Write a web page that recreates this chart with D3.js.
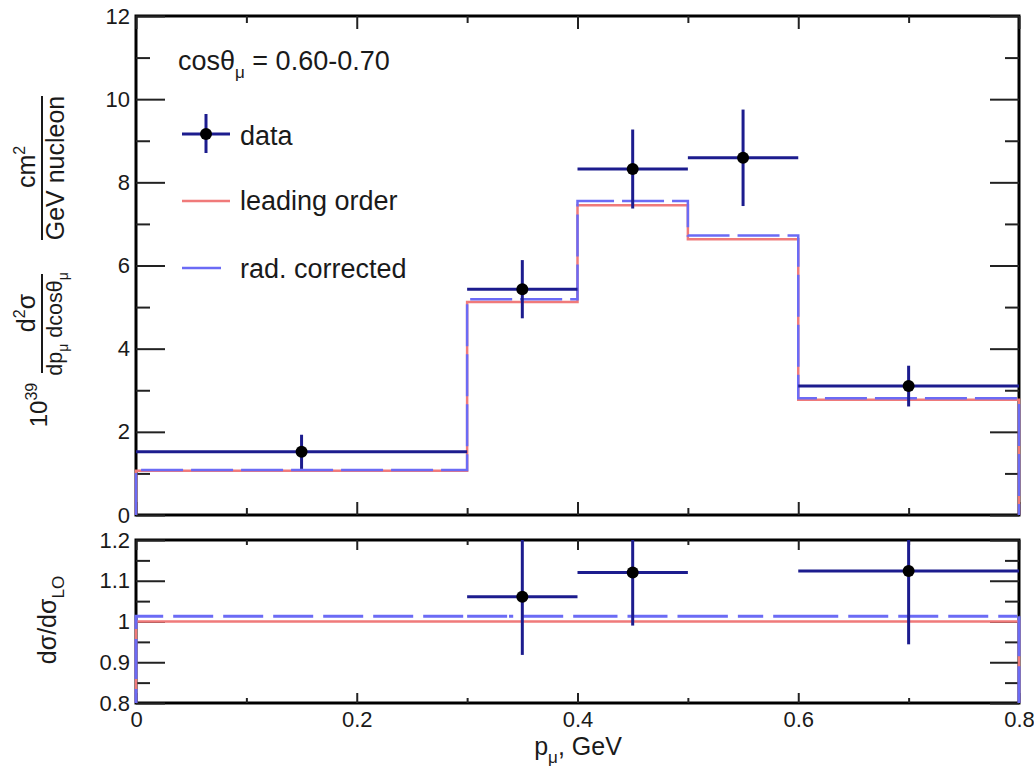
<!DOCTYPE html>
<html><head><meta charset="utf-8">
<script src="https://cdn.jsdelivr.net/npm/d3@7"></script>
<style>
body{margin:0;background:#fff}
text{font-family:"Liberation Sans",Arial,sans-serif;fill:#1a1a1a}
</style>
</head><body><svg id="c" width="1034" height="769"></svg>
<script>
// ---- data ----
const binEdges = [0, 0.3, 0.4, 0.5, 0.6, 0.8];
const dataValues = [1.52, 5.43, 8.32, 8.59, 3.10];
const dataErrors = [0.41, 0.70, 0.95, 1.16, 0.49];
const leadingOrder = [1.065, 5.12, 7.45, 6.63, 2.77];
const radCorrected = [1.08, 5.19, 7.55, 6.72, 2.81];
const ratioLO = [1.0, 1.0, 1.0, 1.0, 1.0];
const ratioRad = [1.013, 1.013, 1.013, 1.013, 1.013];
const ratioData = [null, 1.061, 1.12, null, 1.124];
const ratioErrors = [null, 0.143, 0.13, null, 0.18];
const xTicks = [0, 0.2, 0.4, 0.6, 0.8];
const xTickLabels = ["0", "0.2", "0.4", "0.6", "0.8"];
const xMinorTicks = [0.1, 0.3, 0.5, 0.7];
const yTopTicks = [0, 2, 4, 6, 8, 10, 12];
const yTopMinor = [1, 3, 5, 7, 9, 11];
const yBotTicks = [0.8, 0.9, 1.0, 1.1, 1.2];
const yBotTickLabels = ["0.8", "0.9", "1", "1.1", "1.2"];
const yBotMinor = [0.85, 0.95, 1.05, 1.15];
const legendLabels = ["data", "leading order", "rad. corrected"];

const colData = "#1c1c8e", colLO = "#f07a7a", colRad = "#6b6bf5";

const svg = d3.select("#c");
const L = 136, R = 1019;
const x = d3.scaleLinear([0, 0.8], [L, R]);
const yTop = d3.scaleLinear([0, 12], [515, 16]);
const yBot = d3.scaleLinear([0.8, 1.2], [703, 540]);

function frame(y0, y1) {
  svg.append("rect").attr("x", L).attr("y", y0).attr("width", R - L).attr("height", y1 - y0)
    .attr("fill", "none").attr("stroke", "#000").attr("stroke-width", 3);
}
function axisG(gen, tx, ty) {
  const g = svg.append("g").attr("transform", `translate(${tx},${ty})`).call(gen);
  g.select(".domain").remove();
  g.selectAll(".tick line").attr("stroke", "#222").attr("stroke-width", 2);
  g.selectAll("text").style("font-size", "22px").attr("fill", "#1a1a1a");
  return g;
}

// ---- top panel axes ----
frame(16, 515);
axisG(d3.axisLeft(yTop).tickValues(yTopTicks).tickSize(-29).tickPadding(6), L, 0);
axisG(d3.axisLeft(yTop).tickValues(yTopMinor).tickSize(-14).tickFormat(""), L, 0);
axisG(d3.axisRight(yTop).tickValues(yTopTicks).tickSize(-29).tickFormat(""), R, 0);
axisG(d3.axisRight(yTop).tickValues(yTopMinor).tickSize(-14).tickFormat(""), R, 0);
axisG(d3.axisBottom(x).tickValues(xTicks).tickSize(-13).tickFormat(""), 0, 515);
axisG(d3.axisBottom(x).tickValues(xMinorTicks).tickSize(-7).tickFormat(""), 0, 515);
axisG(d3.axisTop(x).tickValues(xTicks).tickSize(-13).tickFormat(""), 0, 16);
axisG(d3.axisTop(x).tickValues(xMinorTicks).tickSize(-7).tickFormat(""), 0, 16);

// ---- bottom panel axes ----
frame(540, 703);
axisG(d3.axisLeft(yBot).tickValues(yBotTicks).tickSize(-29).tickPadding(6)
  .tickFormat((d, i) => yBotTickLabels[i]), L, 0);
axisG(d3.axisLeft(yBot).tickValues(yBotMinor).tickSize(-14).tickFormat(""), L, 0);
axisG(d3.axisRight(yBot).tickValues(yBotTicks).tickSize(-29).tickFormat(""), R, 0);
axisG(d3.axisRight(yBot).tickValues(yBotMinor).tickSize(-14).tickFormat(""), R, 0);
axisG(d3.axisBottom(x).tickValues(xTicks).tickSize(-10).tickPadding(8)
  .tickFormat((d, i) => xTickLabels[i]), 0, 703);
axisG(d3.axisBottom(x).tickValues(xMinorTicks).tickSize(-5).tickFormat(""), 0, 703);
axisG(d3.axisTop(x).tickValues(xTicks).tickSize(-10).tickFormat(""), 0, 540);
axisG(d3.axisTop(x).tickValues(xMinorTicks).tickSize(-5).tickFormat(""), 0, 540);

// clip paths
const defs = svg.append("defs");
defs.append("clipPath").attr("id", "clipTop").append("rect")
  .attr("x", L - 3).attr("y", 15).attr("width", R - L + 6).attr("height", 502);
defs.append("clipPath").attr("id", "clipBot").append("rect")
  .attr("x", L - 3).attr("y", 540).attr("width", R - L + 6).attr("height", 163);

function stepPts(vals, base) {
  const pts = [[binEdges[0], base]];
  vals.forEach((v, i) => pts.push([binEdges[i], v]));
  pts.push([binEdges[binEdges.length - 1], vals[vals.length - 1]]);
  pts.push([binEdges[binEdges.length - 1], base]);
  return pts;
}
function hist(g, vals, base, ys, color, width, dash) {
  const line = d3.line().x(d => x(d[0])).y(d => ys(d[1])).curve(d3.curveStepAfter);
  g.append("path").attr("d", line(stepPts(vals, base))).attr("fill", "none")
    .attr("stroke", color).attr("stroke-width", width)
    .attr("stroke-dasharray", dash || null);
}
function points(g, vals, errs, ys) {
  vals.forEach((v, i) => {
    if (v == null) return;
    const cx = x((binEdges[i] + binEdges[i + 1]) / 2);
    g.append("line").attr("x1", x(binEdges[i])).attr("x2", x(binEdges[i + 1]))
      .attr("y1", ys(v)).attr("y2", ys(v)).attr("stroke", colData).attr("stroke-width", 3);
    g.append("line").attr("x1", cx).attr("x2", cx)
      .attr("y1", ys(v - errs[i])).attr("y2", ys(v + errs[i])).attr("stroke", colData).attr("stroke-width", 3);
    g.append("circle").attr("cx", cx).attr("cy", ys(v)).attr("r", 6).attr("fill", "#000");
  });
}

const gTop = svg.append("g").attr("clip-path", "url(#clipTop)");
hist(gTop, leadingOrder, 0, yTop, colLO, 2.5);
hist(gTop, radCorrected, 0, yTop, colRad, 2.5, "42,8");
points(gTop, dataValues, dataErrors, yTop);

const gBot = svg.append("g").attr("clip-path", "url(#clipBot)");
hist(gBot, ratioLO, 0, yBot, colLO, 2.5);
hist(gBot, ratioRad, 0, yBot, colRad, 3, "40,10");
points(gBot, ratioData, ratioErrors, yBot);

// ---- legend ----
const cosT = svg.append("text").attr("x", 178).attr("y", 70).style("font-size", "27px");
cosT.append("tspan").text("cosθ");
cosT.append("tspan").attr("dy", 8).style("font-size", "17px").text("μ");
cosT.append("tspan").attr("dy", -8).text(" = 0.60-0.70");

svg.append("line").attr("x1", 182).attr("x2", 230).attr("y1", 134).attr("y2", 134)
  .attr("stroke", colData).attr("stroke-width", 3);
svg.append("line").attr("x1", 206).attr("x2", 206).attr("y1", 114).attr("y2", 153)
  .attr("stroke", colData).attr("stroke-width", 3);
svg.append("circle").attr("cx", 206).attr("cy", 134).attr("r", 6).attr("fill", "#000");
svg.append("line").attr("x1", 182).attr("x2", 230).attr("y1", 201).attr("y2", 201)
  .attr("stroke", colLO).attr("stroke-width", 2.5);
svg.append("line").attr("x1", 182).attr("x2", 221).attr("y1", 268).attr("y2", 268)
  .attr("stroke", colRad).attr("stroke-width", 2.5);
const legY = [145, 210, 278];
legendLabels.forEach((t, i) => svg.append("text").attr("x", 240).attr("y", legY[i])
  .style("font-size", "27px").text(t));

// ---- axis titles ----
function rot(xb, yc, size) {
  return svg.append("text").attr("transform", `translate(${xb},${yc}) rotate(-90)`)
    .attr("text-anchor", "middle").style("font-size", size + "px");
}
const t39 = rot(47, 405, 24);
t39.append("tspan").text("10");
t39.append("tspan").attr("dy", -10).style("font-size", "16px").text("39");
const tn = rot(35, 313, 25);
tn.append("tspan").text("d");
tn.append("tspan").attr("dy", -10).style("font-size", "16px").text("2");
tn.append("tspan").attr("dy", 10).text("σ");
svg.append("line").attr("x1", 42).attr("x2", 42).attr("y1", 274).attr("y2", 373)
  .attr("stroke", "#1a1a1a").attr("stroke-width", 2);
const td = rot(62, 324, 21.5);
td.append("tspan").text("dp");
td.append("tspan").attr("dy", 6).style("font-size", "14px").text("μ");
td.append("tspan").attr("dy", -6).text(" dcosθ");
td.append("tspan").attr("dy", 6).style("font-size", "14px").text("μ");
const tc = rot(35, 167, 25);
tc.append("tspan").text("cm");
tc.append("tspan").attr("dy", -10).style("font-size", "16px").text("2");
svg.append("line").attr("x1", 42).attr("x2", 42).attr("y1", 96).attr("y2", 240)
  .attr("stroke", "#1a1a1a").attr("stroke-width", 2);
rot(64, 168, 25).text("GeV nucleon");

const tr = rot(56, 620, 25);
tr.append("tspan").text("dσ/dσ");
tr.append("tspan").attr("dy", 8).style("font-size", "17px").text("LO");

const tx = svg.append("text").attr("x", 578).attr("y", 755).attr("text-anchor", "middle")
  .style("font-size", "25px");
tx.append("tspan").text("p");
tx.append("tspan").attr("dy", 8).style("font-size", "17px").text("μ");
tx.append("tspan").attr("dy", -8).text(", GeV");
</script>
</body></html>
